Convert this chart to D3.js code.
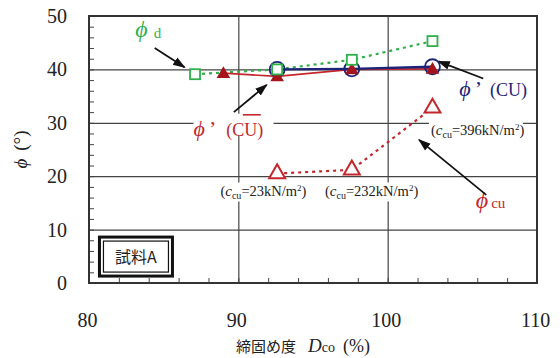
<!DOCTYPE html>
<html>
<head>
<meta charset="utf-8">
<script src="https://cdn.jsdelivr.net/npm/d3@7.9.0/dist/d3.min.js"></script>
<style>
  body { margin: 0; background: #fff; }
  svg { display: block; }
  text { font-family: "Liberation Serif", "DejaVu Serif", serif; }
</style>
</head>
<body>
<div id="chart"></div>
<script>
// values
const xTicks = [80, 90, 100, 110];
const yTicks = [0, 10, 20, 30, 40, 50];

const dcoD = [87.1, 92.6, 97.6, 103.0];
const phiD = [39.1, 40.0, 41.8, 45.3];

const dcoRed = [89.0, 92.6, 97.6, 103.0];
const phiRed = [39.3, 38.7, 40.0, 40.1];

const dcoBlue = [92.6, 97.6, 103.0];
const phiBlue = [40.0, 40.1, 40.5];

const dcoCu = [92.6, 97.6, 103.0];
const phiCu = [20.5, 21.2, 32.8];
const ccuLabels = ['23', '232', '396'];

const PHI = 'ϕ';

const width = 560, height = 358;
const margin = { top: 16, right: 23, bottom: 75, left: 89 };

const green = '#2fb04a', red = '#c4262c', darkRed = '#a3141c', navy = '#1d2376';

const svg = d3.select('#chart').append('svg')
  .attr('width', width).attr('height', height);

const x = d3.scaleLinear().domain([80, 110]).range([margin.left, width - margin.right]);
const y = d3.scaleLinear().domain([0, 50]).range([height - margin.bottom, margin.top]);
const plotW = width - margin.left - margin.right;
const plotH = height - margin.top - margin.bottom;

// gridlines
svg.append('g')
  .attr('transform', `translate(${margin.left},0)`)
  .call(d3.axisLeft(y).tickValues([10, 20, 30, 40]).tickSize(-plotW).tickFormat(''))
  .call(g => g.select('.domain').remove())
  .call(g => g.selectAll('line').attr('stroke', '#444').attr('stroke-width', 1.2));
svg.append('g')
  .attr('transform', `translate(0,${y(0)})`)
  .call(d3.axisBottom(x).tickValues([90, 100]).tickSize(-plotH).tickFormat(''))
  .call(g => g.select('.domain').remove())
  .call(g => g.selectAll('line').attr('stroke', '#444').attr('stroke-width', 1.2));

// minor ticks
svg.append('g')
  .attr('transform', `translate(${margin.left},0)`)
  .call(d3.axisLeft(y).tickValues(d3.range(2, 50, 2)).tickSize(-5).tickFormat(''))
  .call(g => g.select('.domain').remove())
  .call(g => g.selectAll('line').attr('stroke', '#444'));
svg.append('g')
  .attr('transform', `translate(0,${y(0)})`)
  .call(d3.axisBottom(x).tickValues(d3.range(82, 110, 2)).tickSize(-5).tickFormat(''))
  .call(g => g.select('.domain').remove())
  .call(g => g.selectAll('line').attr('stroke', '#444'));

// tick labels
svg.append('g')
  .attr('transform', `translate(${margin.left},0)`)
  .call(d3.axisLeft(y).tickValues(yTicks).tickSize(0).tickPadding(22))
  .call(g => g.select('.domain').remove())
  .call(g => g.selectAll('text').attr('font-size', 20).attr('fill', '#222')
    .style('font-family', '"Liberation Serif", serif'));
svg.append('g')
  .attr('transform', `translate(0,${y(0)})`)
  .call(d3.axisBottom(x).tickValues(xTicks).tickSize(0).tickPadding(30))
  .call(g => g.select('.domain').remove())
  .call(g => g.selectAll('text').attr('font-size', 20).attr('fill', '#222')
    .attr('dx', -2)
    .style('font-family', '"Liberation Serif", serif'));

// annotation text backgrounds & labels (drawn before data so markers stay on top)
const ann = svg.append('g');

function bgRect(x0, y0, w, h) {
  ann.append('rect').attr('x', x0).attr('y', y0).attr('width', w).attr('height', h).attr('fill', '#fff');
}

// arrows
svg.append('defs').append('marker')
  .attr('id', 'arr').attr('viewBox', '0 0 10 10').attr('refX', 9).attr('refY', 5)
  .attr('markerWidth', 7).attr('markerHeight', 7).attr('orient', 'auto-start-reverse')
  .append('path').attr('d', 'M0,1.5 L10,5 L0,8.5 Z').attr('fill', '#111');

const arrows = [
  [[84.4, 44.0], [86.4, 40.4]],
  [[89.7, 32.0], [91.9, 37.1]],
  [[106.4, 38.3], [103.4, 41.5]],
  [[106.6, 16.5], [102.1, 26.8]]
];
const arrowG = svg.append('g');
arrows.forEach(([a, b]) => {
  arrowG.append('line')
    .attr('x1', x(a[0])).attr('y1', y(a[1])).attr('x2', x(b[0])).attr('y2', y(b[1]))
    .attr('stroke', '#111').attr('stroke-width', 1.8).attr('marker-end', 'url(#arr)');
});

// φ' (CU) red label
bgRect(x(87.0), y(31.7), 80, 22);
const redLbl = ann.append('text').attr('x', x(87.0)).attr('y', y(27.6)).attr('fill', red);
redLbl.append('tspan').attr('font-size', 22).attr('font-style', 'italic').text(PHI);
redLbl.append('tspan').attr('font-size', 22).attr('dx', 4).text('’');
redLbl.append('tspan').attr('font-size', 18).attr('dx', 10).text('(CU)');
ann.append('line').attr('x1', x(90.3)).attr('x2', x(91.5)).attr('y1', y(31.5)).attr('y2', y(31.5))
  .attr('stroke', red).attr('stroke-width', 1.6);

// φ' (CU) blue label
const blueLbl = ann.append('text').attr('x', x(104.8)).attr('y', y(35.1)).attr('fill', navy);
blueLbl.append('tspan').attr('font-size', 22).attr('font-style', 'italic').text(PHI);
blueLbl.append('tspan').attr('font-size', 22).attr('dx', 4).text('’');
blueLbl.append('tspan').attr('font-size', 18).attr('dx', 8).text('(CU)');

// φd label
const dLbl = ann.append('text').attr('x', x(83.1)).attr('y', y(46.0)).attr('fill', green);
dLbl.append('tspan').attr('font-size', 24).attr('font-style', 'italic').text(PHI);
dLbl.append('tspan').attr('font-size', 15).attr('dx', 6).attr('dy', 1).text('d');

// φcu label
const cuLbl = ann.append('text').attr('x', x(105.9)).attr('y', y(14.0)).attr('fill', red);
cuLbl.append('tspan').attr('font-size', 24).attr('font-style', 'italic').text(PHI);
cuLbl.append('tspan').attr('font-size', 15).attr('dx', 3).text('cu');

// c_cu labels
const ccuPos = [[88.8, 16.2], [95.8, 16.2], [102.9, 27.8]];
ccuPos.forEach(([px, py], i) => {
  const w = i === 0 ? 86 : 94;
  bgRect(x(px) - 2, y(py) - 14, w, 19);
  const t = ann.append('text').attr('x', x(px)).attr('y', y(py)).attr('fill', '#222').attr('font-size', 14.5);
  t.append('tspan').text('(');
  t.append('tspan').attr('font-style', 'italic').attr('font-size', 15).text('c');
  t.append('tspan').attr('font-size', 10).attr('dy', 3).text('cu');
  t.append('tspan').attr('dy', -3).text(`=${ccuLabels[i]}kN/m`);
  t.append('tspan').attr('font-size', 9).attr('dy', -5).text('2');
  t.append('tspan').attr('dy', 5).text(')');
});

// series
const line = (xs, ys) => d3.line().x((d, i) => x(xs[i])).y(d => y(d))(ys);

svg.append('path').attr('d', line(dcoD, phiD)).attr('fill', 'none')
  .attr('stroke', green).attr('stroke-width', 2.2).attr('stroke-dasharray', '3,4');
svg.append('path').attr('d', line(dcoCu, phiCu)).attr('fill', 'none')
  .attr('stroke', red).attr('stroke-width', 2.2).attr('stroke-dasharray', '3,4');
svg.append('path').attr('d', line(dcoRed, phiRed)).attr('fill', 'none')
  .attr('stroke', red).attr('stroke-width', 1.6);
svg.append('path').attr('d', line(dcoBlue, phiBlue)).attr('fill', 'none')
  .attr('stroke', navy).attr('stroke-width', 2.4);

// blue circles
svg.append('g').selectAll('circle').data(phiBlue).join('circle')
  .attr('cx', (d, i) => x(dcoBlue[i])).attr('cy', d => y(d)).attr('r', 7.5)
  .attr('fill', 'none').attr('stroke', navy).attr('stroke-width', 1.8);

// filled triangles
const tri = d3.symbol().type(d3.symbolTriangle).size(80);
svg.append('g').selectAll('path').data(phiRed).join('path')
  .attr('d', tri)
  .attr('transform', (d, i) => `translate(${x(dcoRed[i])},${y(d) + 1})`)
  .attr('fill', darkRed);

// open triangles
const tri2 = d3.symbol().type(d3.symbolTriangle).size(110);
svg.append('g').selectAll('path').data(phiCu).join('path')
  .attr('d', tri2)
  .attr('transform', (d, i) => `translate(${x(dcoCu[i])},${y(d)})`)
  .attr('fill', '#fff').attr('stroke', red).attr('stroke-width', 2);

// green squares
svg.append('g').selectAll('rect').data(phiD).join('rect')
  .attr('x', (d, i) => x(dcoD[i]) - 5).attr('y', d => y(d) - 5)
  .attr('width', 10).attr('height', 10)
  .attr('fill', '#fff').attr('stroke', green).attr('stroke-width', 1.8);

// frame
svg.append('rect')
  .attr('x', margin.left).attr('y', margin.top).attr('width', plotW).attr('height', plotH)
  .attr('fill', 'none').attr('stroke', '#333').attr('stroke-width', 2);

// sample box
const bx = x(80.7), by = y(8.6), bw = 73, bh = 39;
svg.append('rect').attr('x', bx).attr('y', by).attr('width', bw).attr('height', bh)
  .attr('fill', '#fff').attr('stroke', '#111').attr('stroke-width', 3);
svg.append('rect').attr('x', bx + 4).attr('y', by + 4).attr('width', bw - 8).attr('height', bh - 8)
  .attr('fill', 'none').attr('stroke', '#111').attr('stroke-width', 1.2);
svg.append('text').attr('x', bx + bw / 2).attr('y', by + bh / 2 + 6)
  .attr('text-anchor', 'middle').attr('fill', '#222')
  .style('font-family', '"Noto Sans CJK JP", sans-serif').attr('font-size', 16)
  .text('試料A');

// axis titles
const yt = svg.append('text')
  .attr('transform', `translate(27,${(margin.top + height - margin.bottom) / 2}) rotate(-90)`)
  .attr('text-anchor', 'middle').attr('fill', '#222').attr('font-size', 19);
yt.append('tspan').attr('font-style', 'italic').text(PHI);
yt.append('tspan').attr('dx', 8).text('(°)');

const xt = svg.append('text').attr('x', 236).attr('y', 352).attr('fill', '#222');
xt.append('tspan').style('font-family', '"Noto Sans CJK JP", sans-serif').attr('font-size', 15).text('締固め度');
xt.append('tspan').attr('dx', 12).attr('font-size', 19).attr('font-style', 'italic').text('D');
xt.append('tspan').attr('font-size', 14).text('co');
xt.append('tspan').attr('dx', 8).attr('font-size', 18).text('(%)');
</script>
</body>
</html>
